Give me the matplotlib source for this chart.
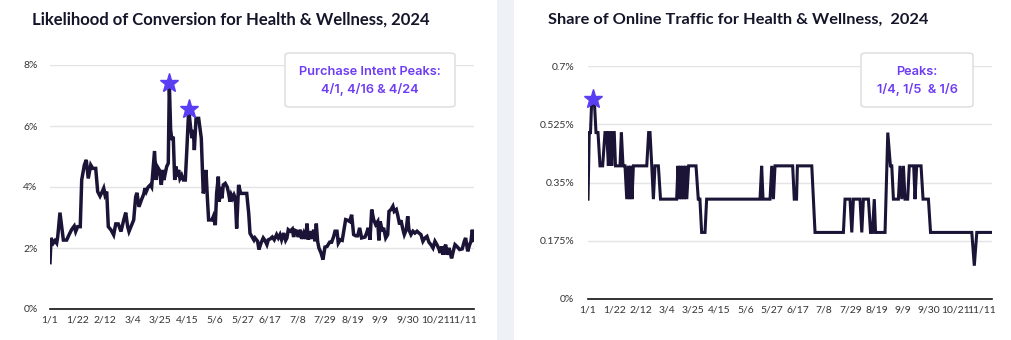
import matplotlib
matplotlib.use("Agg")
import matplotlib.pyplot as plt
from matplotlib.patches import FancyBboxPatch, Rectangle

# ---------------- data ----------------
x_tick_days = [0, 21, 42, 63, 84, 105, 126, 147, 168, 189, 210, 231, 252, 273, 294, 315]
x_tick_labels = ["1/1", "1/22", "2/12", "3/4", "3/25", "4/15", "5/6", "5/27", "6/17",
                 "7/8", "7/29", "8/19", "9/9", "9/30", "10/21", "11/11"]

# Likelihood of conversion (%), day offset from 1/1
conv_days = [0, 0.8, 2.5, 3.8, 5.1, 5.9, 7.6, 8.9, 10.2, 12.7, 14.5, 16.6, 18.5, 19.6, 21.1, 23.1,
             24.2, 26.2, 27.7, 29.2, 31.1, 32.6, 34.9, 36.4, 38.2, 39.9, 41.0, 42.0, 43.3, 44.5,
             46.6, 48.6, 50.2, 52.1, 54.2, 56.3, 57.8, 59.3, 60.3, 62.4, 63.9, 65.4, 66.4, 67.9,
             70.0, 71.5, 72.5, 73.5, 75.0, 76.6, 77.6, 79.8, 80.9, 81.9, 83.4, 85.0, 86.0, 87.0,
             88.0, 89.1, 90.3, 91.1, 92.1, 93.1, 94.1, 95.2, 96.2, 97.2, 98.2, 99.2, 100.5, 101.8,
             103.3, 104.4, 105.9, 107.4, 108.4, 109.4, 110.2, 111.5, 113.5, 115.5, 117.0, 118.1,
             119.1, 120.1, 121.1, 123.7, 124.7, 126.2, 127.2, 128.5, 129.2, 130.3, 131.3, 132.3,
             133.8, 135.3, 136.4, 137.4, 138.4, 139.5, 140.5, 141.5, 142.5, 144.0, 145.6, 147.1,
             150.2, 151.7, 152.7, 154.2, 155.7, 156.5, 158.5, 159.5, 161.1, 162.8, 164.1, 165.6,
             166.7, 168.2, 169.7, 171.2, 173.0, 174.3, 175.6, 176.8, 178.4, 179.9, 180.9, 181.9,
             183.4, 185.0, 186.0, 187.0, 188.5, 189.5, 191.1, 192.1, 193.7, 195.2, 196.2, 197.2,
             198.2, 199.8, 201.3, 202.3, 203.3, 204.3, 205.3, 206.9, 208.4, 209.9, 211.5, 213.5,
             215.0, 216.6, 217.6, 219.1, 220.1, 221.6, 223.1, 224.7, 225.7, 227.2, 228.8, 230.3,
             231.8, 233.4, 234.9, 236.4, 237.9, 240.5, 241.7, 243.0, 244.3, 245.6, 247.1, 248.6,
             250.2, 251.1, 252.1, 253.7, 254.7, 256.3, 257.8, 258.8, 260.3, 261.8, 262.8, 264.4,
             265.4, 266.9, 267.9, 269.5, 270.5, 272.0, 273.1, 274.0, 275.6, 277.1, 278.6, 280.2,
             281.7, 283.2, 284.7, 286.3, 287.8, 289.3, 290.8, 292.4, 293.9, 295.4, 296.9, 297.9,
             299.0, 300.0, 301.0, 302.1, 303.1, 304.6, 305.6, 306.6, 308.2, 309.2, 310.7, 312.7,
             314.7, 316.3, 317.3, 318.9, 320.4, 321.4, 322.4, 323.4]
conv_vals = [1.52, 2.33, 2.16, 2.24, 2.16, 2.37, 3.16, 2.70, 2.26, 2.26, 2.43, 2.61, 2.72, 2.54, 2.70, 2.70,
             4.23, 4.72, 4.89, 4.28, 4.72, 4.61, 4.61, 3.85, 3.70, 3.85, 3.96, 3.74, 3.85, 2.70,
             2.59, 2.43, 2.79, 2.79, 2.54, 2.92, 3.16, 2.70, 2.54, 2.76, 2.92, 3.68, 3.81, 3.35,
             3.60, 3.76, 3.96, 3.85, 4.00, 4.07, 4.00, 5.18, 4.23, 4.67, 4.56, 4.07, 4.56, 4.23,
             4.45, 4.67, 4.78, 7.40, 5.87, 5.54, 5.65, 4.23, 4.67, 4.34, 4.56, 4.28, 4.39, 4.23,
             4.23, 5.16, 6.55, 5.92, 5.60, 5.87, 5.21, 6.25, 6.25, 5.60, 3.79, 4.00,
             4.56, 3.68, 2.92, 2.92, 3.03, 2.75, 3.79, 4.34, 3.52, 4.00, 3.63, 4.07,
             4.12, 4.00, 3.79, 3.52, 3.74, 3.63, 3.74, 3.63, 2.64, 4.07, 3.79, 3.79,
             3.79, 3.14, 2.48, 2.37, 2.26, 2.33, 2.22, 1.95, 2.16, 2.33, 2.25, 2.11,
             2.27, 2.30, 2.36, 2.27, 2.44, 2.33, 2.44, 2.27, 2.49, 2.25, 2.33, 2.60,
             2.55, 2.62, 2.36, 2.58, 2.55, 2.36, 2.60, 2.30, 2.49, 2.30, 2.80, 2.27,
             2.55, 2.30, 2.60, 2.22, 2.80, 2.22, 2.00, 1.84, 1.62, 2.03, 2.05, 2.19,
             2.19, 2.38, 2.55, 2.55, 2.16, 2.27, 2.25, 2.66, 2.93, 2.91, 2.87, 3.09,
             2.44, 2.40, 2.40, 2.66, 2.33, 2.36, 2.49, 2.66, 2.27, 3.26, 2.93, 2.77,
             2.87, 2.25, 2.87, 2.55, 2.66, 2.33, 2.44, 3.20, 3.26, 3.37, 3.20, 3.26,
             3.09, 2.77, 2.91, 2.60, 2.44, 2.60, 3.04, 2.60, 2.44, 2.55, 2.49, 2.55,
             2.49, 2.44, 2.22, 2.33, 2.38, 2.19, 2.11, 2.00, 2.22, 2.11, 1.97, 1.84,
             2.05, 1.78, 2.00, 2.11, 1.78, 2.00, 1.84, 1.66, 1.95, 2.11, 2.05, 1.95,
             1.97, 2.22, 2.33, 1.89, 2.11, 2.22, 2.60, 2.25]
conv_peak_days = [91.1, 105.9]
conv_peak_vals = [7.40, 6.55]

# Share of online traffic (%), day offset from 1/1
traf_days = [0, 1, 2, 3, 5, 6.4, 8, 9.6, 11.7, 13.6, 15, 16.3, 17, 18, 19, 20, 21, 22,
             25.6, 26.7, 28, 29.6, 31, 32.3, 33, 34, 35.2, 36.3, 47, 48.5, 49.6, 51, 52.3,
             53.6, 56.3, 58, 70.9, 72, 73, 74, 75, 76, 77, 78, 79, 80.5, 86.4, 88.2, 89.5,
             90.9, 93.6, 94.9, 137.6, 138.9, 140, 145.6, 147, 148.3, 149.6, 163.7, 165,
             166.8, 167.5, 179, 181.6, 204.3, 205.6, 209.6, 211, 212.3, 217.6, 219, 220.3,
             224.3, 226, 227.5, 229, 230, 237.6, 239.8, 241.9, 243, 244.3, 248.3, 249.6,
             251, 252.3, 253.6, 255.7, 257, 260.5, 261.6, 262.9, 266.4, 268, 272.3, 274,
             307, 309, 311, 323.4]
traf_vals = [0.3, 0.5, 0.5, 0.6, 0.6, 0.5, 0.5, 0.4, 0.4, 0.5, 0.5, 0.4, 0.5, 0.5, 0.4, 0.5, 0.5, 0.4,
             0.4, 0.5, 0.4, 0.4, 0.3, 0.4, 0.3, 0.4, 0.3, 0.4, 0.4, 0.5, 0.5, 0.4, 0.3,
             0.4, 0.4, 0.3, 0.3, 0.4, 0.3, 0.4, 0.3, 0.4, 0.3, 0.4, 0.3, 0.4, 0.4, 0.3, 0.3,
             0.2, 0.2, 0.3, 0.3, 0.4, 0.3, 0.3, 0.4, 0.3, 0.4, 0.4, 0.3,
             0.3, 0.4, 0.4, 0.2, 0.2, 0.3, 0.3, 0.2, 0.3, 0.3, 0.2, 0.3,
             0.3, 0.2, 0.2, 0.3, 0.2, 0.2, 0.5, 0.4, 0.4, 0.3, 0.3, 0.4,
             0.3, 0.4, 0.3, 0.3, 0.4, 0.4, 0.3, 0.4, 0.4, 0.3, 0.3, 0.2,
             0.2, 0.1, 0.2, 0.2]
traf_peak_days = [3.8]
traf_peak_vals = [0.6]

conv_yticks = [0, 2, 4, 6, 8]
conv_ylabels = ["0%", "2%", "4%", "6%", "8%"]
traf_yticks = [0, 0.175, 0.35, 0.525, 0.7]
traf_ylabels = ["0%", "0.175%", "0.35%", "0.525%", "0.7%"]

titles = ["Likelihood of Conversion for Health & Wellness, 2024",
          "Share of Online Traffic for Health & Wellness,  2024"]
box_lines = [["Purchase Intent Peaks:", "4/1, 4/16 & 4/24"],
             ["Peaks:", "1/4, 1/5  & 1/6"]]

# ---------------- style ----------------
W, H = 1011, 340
LINE = "#1b1437"
STAR = "#5a3ff2"
PURPLE = "#6d3cf4"
GRID = "#e4e4e8"
TXT = "#333333"
plt.rcParams["font.family"] = ["Lato", "DejaVu Sans"]

fig = plt.figure(figsize=(W / 100, H / 100), dpi=100)
fig.patch.set_facecolor("white")
# separator strip between panels
fig.patches.append(Rectangle((497 / W, 0), 17 / W, 1, transform=fig.transFigure,
                             facecolor="#eef2f7", edgecolor="none", zorder=0))


def px_rect(x0, y0, x1, y1):
    return [x0 / W, 1 - y1 / H, (x1 - x0) / W, (y1 - y0) / H]


def style_axes(ax, yticks, ylabels, ylim, ypad):
    ax.set_xlim(0, 323.4)
    ax.set_ylim(*ylim)
    ax.set_yticks(yticks)
    ax.set_yticklabels(ylabels)
    ax.set_xticks(x_tick_days)
    ax.set_xticklabels(x_tick_labels)
    for s in ["top", "right", "left"]:
        ax.spines[s].set_visible(False)
    ax.spines["bottom"].set_color("#111111")
    ax.spines["bottom"].set_linewidth(1.2)
    ax.grid(axis="y", color=GRID, linewidth=1)
    ax.grid(axis="x", visible=False)
    ax.set_axisbelow(True)
    ax.tick_params(axis="both", length=0, labelsize=7.5, labelcolor=TXT)
    ax.tick_params(axis="y", pad=ypad)
    ax.tick_params(axis="x", pad=5)
    ax.set_facecolor("none")


# left panel
ax1 = fig.add_axes(px_rect(50, 65, 473.6, 309))
ax1.plot(conv_days, conv_vals, color=LINE, linewidth=2.5, solid_joinstyle="miter")
ax1.plot(conv_peak_days, conv_peak_vals, linestyle="none", marker="*", markersize=14,
         color=STAR, clip_on=False, zorder=5)
style_axes(ax1, conv_yticks, conv_ylabels, (0, 8), 9)

# right panel
ax2 = fig.add_axes(px_rect(588, 66, 992.3, 299))
ax2.plot(traf_days, traf_vals, color=LINE, linewidth=2.2, solid_joinstyle="miter")
ax2.plot(traf_peak_days, traf_peak_vals, linestyle="none", marker="*", markersize=14,
         color=STAR, clip_on=False, zorder=5)
style_axes(ax2, traf_yticks, traf_ylabels, (0, 0.7), 10)

# titles
fig.text(32 / W, 1 - 20 / H, titles[0], fontsize=12, fontweight="bold",
         color="#15152a", va="center", ha="left")
fig.text(548 / W, 1 - 20 / H, titles[1], fontsize=11.8, fontweight="bold",
         color="#15152a", va="center", ha="left")

# annotation boxes
for (x0, x1), lines in zip([(285, 455), (861, 973)], box_lines):
    y0, y1 = 53, 107
    fig.patches.append(FancyBboxPatch((x0 / W, 1 - y1 / H), (x1 - x0) / W, (y1 - y0) / H,
                                      boxstyle="round,pad=0,rounding_size=0.006",
                                      transform=fig.transFigure, facecolor="white",
                                      edgecolor="#dcdce0", linewidth=1, zorder=3))
    cx = (x0 + x1) / 2 / W
    fig.text(cx, 1 - 72 / H, lines[0], fontsize=9.2, fontweight="semibold", color=PURPLE,
             ha="center", va="center", zorder=4, family=["Inter", "DejaVu Sans"])
    fig.text(cx, 1 - 89 / H, lines[1], fontsize=9.2, fontweight="semibold", color=PURPLE,
             ha="center", va="center", zorder=4, family=["Inter", "DejaVu Sans"])

fig.savefig("out.png", dpi=100, facecolor="white")
